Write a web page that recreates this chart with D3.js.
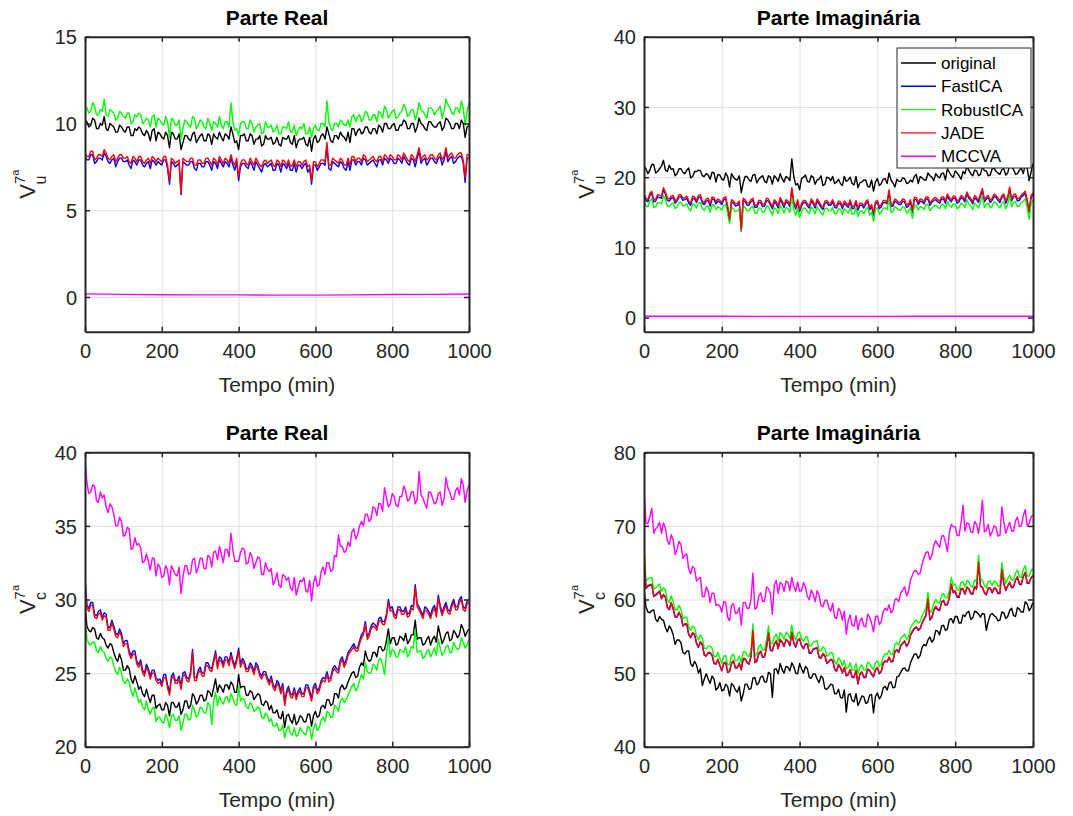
<!DOCTYPE html>
<html>
<head>
<meta charset="utf-8">
<script src="https://cdn.jsdelivr.net/npm/d3@7"></script>
<style>
  body { margin: 0; background: #fff; }
  svg { display: block; font-family: "Liberation Sans", Arial, sans-serif; }
</style>
</head>
<body>
<svg id="chart" width="1073" height="816"></svg>
<script>
// amostras: serie principal em t = 0,10,...,1000 min
// e amostras intermediarias ("_meio") em t = 5,15,...,995 min
const passo = 5;
const passoMccvaU = 100;

// ---------- V_u, parte real ----------
const reU_original = [10.2,9.8,10.3,9.7,10.0,10.4,9.6,9.9,9.5,9.9,
  9.6,9.8,9.3,9.7,9.8,9.4,9.6,9.0,9.7,9.5,
  9.2,9.5,8.6,9.4,9.1,8.5,9.3,9.1,9.4,8.9,
  9.3,9.0,9.4,8.8,9.2,9.5,9.0,9.3,9.8,8.9,
  8.5,9.3,9.0,9.4,8.8,9.1,8.7,9.3,9.1,8.8,
  9.2,8.7,9.1,9.3,8.8,8.6,9.1,9.2,8.7,8.4,
  9.3,9.0,9.4,9.8,9.0,9.3,9.1,9.3,9.0,8.9,
  9.7,9.6,9.4,9.8,9.5,9.7,9.4,9.8,10.0,9.7,
  9.9,9.6,9.9,10.2,9.7,10.0,9.5,10.3,9.9,9.6,
  10.1,9.8,10.0,9.6,10.3,10.0,9.7,10.0,10.2,9.2,9.9];
const reU_original_meio = [10.1,9.9,10.2,9.7,9.9,9.7,10.0,9.8,9.5,9.8,
  9.5,9.8,9.3,9.6,9.7,9.3,9.4,9.6,9.0,9.4,
  9.1,9.3,9.5,9.1,9.4,8.9,9.3,9.0,9.5,9.1,
  9.4,9.0,9.3,9.4,9.1,9.2,9.4,9.1,9.4,9.0,
  9.3,9.4,9.0,9.3,9.1,9.3,8.8,9.1,9.2,8.9,
  8.8,9.2,9.1,8.9,9.3,9.0,9.1,8.8,9.2,9.1,
  8.9,9.3,9.1,9.4,8.9,9.3,9.5,9.2,9.5,9.7,
  9.3,9.7,9.5,9.8,9.4,9.7,9.9,9.5,10.0,9.7,
  10.0,9.6,9.9,10.1,9.7,10.0,9.8,10.0,9.7,10.1,
  9.9,9.8,10.1,9.8,10.2,9.7,10.0,9.7,10.0,9.8];
const reU_fastica = [8.1,7.9,8.2,7.8,8.0,8.3,7.8,7.9,7.5,8.0,
  7.8,7.9,7.4,7.8,7.9,7.6,7.7,7.4,7.8,7.8,
  7.6,7.9,6.5,7.7,7.6,5.9,7.7,7.6,7.8,7.3,
  7.7,7.5,7.8,7.3,7.7,7.9,7.5,7.7,8.0,7.3,
  6.7,7.7,7.5,7.8,7.3,7.6,7.2,7.7,7.6,7.3,
  7.7,7.2,7.6,7.7,7.3,7.2,7.6,7.6,7.2,6.5,
  7.6,7.5,7.7,8.7,7.3,7.7,7.5,7.7,7.3,7.3,
  7.9,7.8,7.6,7.9,7.7,7.9,7.5,7.9,8.0,7.7,
  7.9,7.7,7.9,8.1,7.7,8.0,7.5,8.4,7.9,7.6,
  8.0,7.8,8.0,7.6,8.4,8.0,7.7,8.0,8.1,6.6,8.0];
const reU_fastica_meio = [7.9,8.2,7.7,8.0,7.9,8.1,7.7,8.0,7.8,8.0,
  7.8,7.6,7.9,7.6,7.9,7.5,7.8,7.9,7.6,7.7,
  7.9,7.4,7.8,7.5,7.7,7.8,7.6,7.8,7.4,7.7,
  7.5,7.8,7.6,7.8,7.4,7.7,7.8,7.5,7.6,7.8,
  7.5,7.7,7.4,7.6,7.8,7.4,7.6,7.5,7.7,7.3,
  7.6,7.7,7.4,7.3,7.7,7.6,7.4,7.7,7.4,7.6,
  7.3,7.7,7.6,7.4,7.8,7.6,7.8,7.4,7.8,7.9,
  7.6,7.8,8.0,7.6,7.8,7.7,7.9,7.6,7.9,8.0,
  7.7,8.0,7.7,7.9,7.6,7.9,8.0,7.7,8.0,7.8,
  8.0,7.7,8.1,7.9,7.8,8.1,7.8,8.1,7.7,8.0];
const reU_robustica = [11.0,10.6,11.2,10.5,10.8,11.4,10.4,10.7,10.2,10.7,
  10.4,10.6,10.0,10.5,10.6,10.0,10.3,9.8,10.5,10.3,
  10.0,10.4,9.2,10.2,9.9,9.1,10.2,9.9,10.4,9.7,
  10.2,9.8,10.3,9.6,10.0,10.4,9.7,10.1,11.2,9.6,
  9.3,10.1,9.7,10.2,9.5,9.9,9.4,10.1,9.8,9.5,
  9.9,9.4,9.8,10.1,9.5,9.3,9.8,10.0,9.4,9.2,
  9.9,9.6,10.0,11.3,9.7,10.0,9.8,10.1,9.9,9.8,
  10.5,10.4,10.1,10.7,10.2,10.5,10.1,10.6,11.0,10.3,
  10.7,10.3,10.6,11.1,10.4,10.8,10.2,11.2,10.7,10.3,
  10.9,10.5,10.8,10.3,11.4,10.9,10.5,10.9,11.3,9.9,11.2];
const reU_robustica_meio = [10.9,10.7,11.0,10.5,10.7,10.5,10.8,10.6,10.3,10.6,
  10.3,10.6,10.1,10.4,10.5,10.1,10.2,10.4,9.8,10.2,
  9.9,10.1,10.3,9.9,10.2,9.7,10.1,9.8,10.3,9.9,
  10.1,9.7,10.0,10.1,9.8,9.9,10.1,9.8,10.1,9.7,
  10.0,10.1,9.7,10.0,9.8,10.0,9.5,9.8,9.9,9.6,
  9.4,9.8,9.7,9.5,9.9,9.6,9.7,9.4,9.8,9.7,
  9.6,10.0,9.8,10.1,9.6,10.0,10.2,9.9,10.2,10.4,
  10.1,10.5,10.3,10.6,10.2,10.5,10.7,10.3,10.8,10.5,
  10.8,10.4,10.7,10.9,10.5,10.8,10.6,10.8,10.5,10.9,
  10.8,10.7,11.0,10.7,11.1,10.6,10.9,10.6,10.9,10.7];
const reU_jade = [8.3,8.1,8.4,8.0,8.2,8.5,8.0,8.1,7.8,8.2,
  8.0,8.1,7.7,8.0,8.1,7.8,7.9,7.7,8.0,8.0,
  7.8,8.1,6.7,7.9,7.8,6.0,7.9,7.8,8.0,7.6,
  7.9,7.7,8.0,7.6,7.9,8.1,7.7,7.9,8.2,7.6,
  6.9,7.9,7.7,8.0,7.6,7.8,7.5,7.9,7.8,7.6,
  7.9,7.5,7.8,7.9,7.6,7.5,7.8,7.8,7.5,6.7,
  7.8,7.7,7.9,8.9,7.6,7.9,7.7,7.9,7.6,7.6,
  8.1,8.0,7.8,8.1,7.9,8.1,7.8,8.1,8.2,7.9,
  8.1,7.9,8.1,8.3,7.9,8.2,7.8,8.6,8.1,7.9,
  8.2,8.0,8.2,7.9,8.6,8.2,8.0,8.2,8.3,6.9,8.2];
const reU_jade_meio = [8.1,8.4,7.9,8.2,8.1,8.3,7.9,8.2,8.0,8.2,
  8.0,7.8,8.1,7.8,8.1,7.7,8.0,8.1,7.8,7.9,
  8.1,7.6,8.0,7.7,7.9,8.0,7.8,8.0,7.6,7.9,
  7.7,8.0,7.8,8.0,7.6,7.9,8.0,7.7,7.8,8.0,
  7.7,7.9,7.6,7.8,8.0,7.6,7.8,7.7,7.9,7.5,
  7.8,7.9,7.6,7.5,7.9,7.8,7.6,7.9,7.6,7.8,
  7.5,7.9,7.8,7.6,8.0,7.8,8.0,7.6,8.0,8.1,
  7.8,8.0,8.2,7.8,8.0,7.9,8.1,7.8,8.1,8.2,
  7.9,8.2,7.9,8.1,7.8,8.1,8.2,7.9,8.2,8.0,
  8.2,7.9,8.3,8.1,8.0,8.3,8.0,8.3,7.9,8.2];
const reU_mccva = [0.18,0.15,0.13,0.12,0.12,0.11,0.11,0.12,0.14,0.15,0.17];

// ---------- V_u, parte imaginaria ----------
const imU_original = [21.6,20.5,21.8,20.6,21.2,22.4,20.8,21.1,20.2,21.2,
  20.7,21.0,19.9,20.8,21.0,20.2,20.5,19.7,20.6,20.4,
  19.7,20.6,18.6,20.0,19.6,17.8,20.1,19.6,20.3,19.2,
  20.0,19.4,20.2,19.0,19.9,20.5,19.3,19.9,22.6,18.9,
  18.2,20.0,19.4,20.2,19.0,19.7,18.8,20.0,19.5,19.1,
  19.7,18.8,19.4,20.0,18.9,18.5,19.3,19.6,18.6,18.0,
  19.8,19.1,19.8,20.6,19.2,19.7,19.4,19.8,19.2,19.3,
  20.4,20.1,19.6,20.6,20.0,20.5,19.9,20.6,21.2,20.2,
  20.9,20.2,20.8,21.5,20.5,21.0,20.2,21.6,20.9,20.3,
  21.3,20.6,21.1,20.3,21.8,21.1,20.5,21.3,21.8,19.5,22.0];
const imU_original_meio = [21.2,21.0,21.8,20.8,21.6,21.0,21.7,21.2,20.5,21.2,
  20.5,21.3,20.1,20.8,20.9,20.1,20.3,20.7,19.3,20.3,
  19.6,20.1,20.5,19.7,20.2,19.2,20.1,19.4,20.4,19.7,
  20.2,19.2,20.0,20.2,19.4,19.8,20.1,19.5,20.1,19.1,
  19.8,20.3,19.3,20.0,19.6,20.2,19.0,19.9,20.1,19.3,
  19.1,20.1,19.6,19.1,20.1,19.2,19.6,18.7,19.6,19.3,
  18.8,19.7,19.1,19.6,18.6,19.4,19.9,19.1,19.6,20.1,
  19.1,19.9,19.6,20.2,19.5,20.1,20.5,19.6,20.7,20.0,
  20.6,19.7,20.5,21.0,20.2,20.9,20.4,20.9,20.2,21.2,
  20.8,20.4,21.2,20.6,21.4,20.4,21.0,20.5,21.3,20.7];
const imU_fastica = [17.4,16.5,17.7,16.6,17.1,18.2,16.7,17.0,16.3,17.2,
  16.7,17.0,16.0,16.9,17.1,16.3,16.6,15.9,16.8,16.6,
  16.1,16.9,13.7,16.3,16.0,12.3,16.5,16.0,16.7,15.7,
  16.4,15.9,16.6,15.5,16.2,16.8,15.7,16.3,18.2,15.5,
  15.1,16.4,15.9,16.6,15.6,16.2,15.4,16.4,16.0,15.7,
  16.3,15.5,16.0,16.5,15.6,15.3,16.0,16.2,15.4,14.6,
  16.4,15.8,16.4,17.9,15.9,16.4,16.1,16.5,15.9,15.0,
  16.8,16.6,16.2,16.9,16.4,16.8,16.3,16.9,17.3,16.5,
  17.0,16.5,16.9,17.6,16.7,17.1,16.4,18.1,16.9,16.4,
  17.3,16.7,17.1,16.3,18.3,17.2,16.6,17.2,17.7,14.9,17.5];
const imU_fastica_meio = [16.7,17.4,16.5,17.2,17.0,17.6,16.6,17.1,16.6,17.2,
  16.8,16.3,17.0,16.4,17.2,16.1,16.7,16.9,16.2,16.4,
  16.8,15.6,16.5,15.9,16.3,16.7,16.0,16.5,15.7,16.4,
  15.8,16.7,16.0,16.5,15.6,16.3,16.5,15.8,16.2,16.5,
  15.9,16.4,15.6,16.2,16.6,15.7,16.3,16.0,16.5,15.6,
  16.2,16.3,15.7,15.5,16.4,16.0,15.6,16.5,15.8,16.2,
  15.5,16.4,16.2,15.8,16.6,16.1,16.6,15.7,16.5,16.8,
  16.1,16.5,16.9,16.0,16.7,16.5,16.9,16.3,16.8,17.0,
  16.3,17.1,16.5,17.0,16.2,16.8,17.3,16.5,17.1,16.7,
  17.1,16.4,17.3,16.9,16.6,17.3,16.7,17.4,16.5,17.1];
const imU_robustica = [16.6,15.8,16.9,15.8,16.3,17.4,15.9,16.2,15.5,16.4,
  15.9,16.2,15.2,16.1,16.3,15.5,15.8,15.0,16.0,15.8,
  15.3,16.1,13.4,15.5,15.2,12.4,15.7,15.2,15.9,14.9,
  15.6,15.1,15.8,14.6,15.4,16.0,14.9,15.5,17.3,14.6,
  14.3,15.6,15.1,15.8,14.8,15.4,14.6,15.6,15.2,14.8,
  15.5,14.7,15.2,15.7,14.8,14.4,15.2,15.4,14.6,13.7,
  15.6,15.0,15.6,17.0,15.1,15.6,15.3,15.7,15.1,14.1,
  16.0,15.8,15.4,16.1,15.6,16.0,15.5,16.1,16.5,15.7,
  16.2,15.7,16.1,16.8,15.9,16.3,15.6,17.3,16.1,15.6,
  16.5,15.9,16.3,15.5,17.5,16.4,15.8,16.4,16.9,14.0,16.7];
const imU_robustica_meio = [15.9,16.6,15.7,16.4,16.2,16.8,15.8,16.3,15.8,16.4,
  16.0,15.5,16.2,15.6,16.4,15.3,15.9,16.1,15.4,15.6,
  16.0,14.8,15.7,15.1,15.5,15.9,15.2,15.7,14.9,15.6,
  15.0,15.9,15.2,15.7,14.8,15.5,15.7,15.0,15.4,15.7,
  15.1,15.6,14.8,15.4,15.8,14.9,15.5,15.2,15.7,14.8,
  15.4,15.5,14.9,14.7,15.6,15.2,14.8,15.7,15.0,15.4,
  14.7,15.6,15.4,15.0,15.8,15.3,15.8,14.9,15.7,16.0,
  15.3,15.7,16.1,15.2,15.9,15.7,16.1,15.5,16.0,16.2,
  15.5,16.3,15.7,16.2,15.4,16.0,16.5,15.7,16.3,15.9,
  16.3,15.6,16.5,16.1,15.8,16.5,15.9,16.6,15.7,16.3];
const imU_jade = [17.7,16.8,18.0,16.9,17.4,18.5,17.0,17.3,16.6,17.5,
  17.0,17.3,16.3,17.2,17.4,16.6,16.9,16.2,17.1,16.9,
  16.4,17.2,14.0,16.6,16.3,12.6,16.8,16.3,17.0,16.0,
  16.7,16.2,16.9,15.8,16.5,17.1,16.0,16.6,18.5,15.8,
  15.4,16.7,16.2,16.9,15.9,16.5,15.7,16.7,16.3,16.0,
  16.6,15.8,16.3,16.8,15.9,15.6,16.3,16.5,15.7,14.9,
  16.7,16.1,16.7,18.2,16.2,16.7,16.4,16.8,16.2,15.3,
  17.1,16.9,16.5,17.2,16.7,17.1,16.6,17.2,17.6,16.8,
  17.3,16.8,17.2,17.9,17.0,17.4,16.7,18.4,17.2,16.7,
  17.6,17.0,17.4,16.6,18.6,17.5,16.9,17.5,18.0,15.2,17.8];
const imU_jade_meio = [17.0,17.7,16.8,17.5,17.3,17.9,16.9,17.4,16.9,17.5,
  17.1,16.6,17.3,16.7,17.5,16.4,17.0,17.2,16.5,16.7,
  17.1,15.9,16.8,16.2,16.6,17.0,16.3,16.8,16.0,16.7,
  16.1,17.0,16.3,16.8,15.9,16.6,16.8,16.1,16.5,16.8,
  16.2,16.7,15.9,16.5,16.9,16.0,16.6,16.3,16.8,15.9,
  16.5,16.6,16.0,15.8,16.7,16.3,15.9,16.8,16.1,16.5,
  15.8,16.7,16.5,16.1,16.9,16.4,16.9,16.0,16.8,17.1,
  16.4,16.8,17.2,16.3,17.0,16.8,17.2,16.6,17.1,17.3,
  16.6,17.4,16.8,17.3,16.5,17.1,17.6,16.8,17.4,17.0,
  17.4,16.7,17.6,17.2,16.9,17.6,17.0,17.7,16.8,17.4];
const imU_mccva = [0.2,0.2,0.19,0.18,0.18,0.18,0.18,0.19,0.2,0.2,0.21];

// ---------- V_c, parte real ----------
const reC_original = [29.7,27.9,28.1,27.4,27.7,27.3,26.7,26.9,26.0,26.3,
  25.2,25.5,24.6,24.8,23.9,23.6,23.9,23.0,23.5,22.8,
  22.5,23.0,22.1,23.0,22.7,22.2,23.1,22.6,23.6,22.9,
  23.5,23.1,23.8,23.4,24.6,24.2,23.7,24.2,24.4,23.7,
  24.9,24.1,23.5,23.8,23.2,23.6,22.9,23.1,22.5,22.3,
  22.5,21.9,21.3,22.2,21.6,21.5,22.1,21.7,22.2,21.4,
  22.4,22.1,22.8,23.2,22.8,23.6,23.3,24.2,24.0,24.7,
  25.1,24.8,25.7,26.5,25.8,26.4,26.1,26.8,26.6,28.0,
  27.4,26.9,27.5,27.2,27.0,27.6,28.6,27.4,26.9,27.3,
  26.9,27.5,28.2,27.0,27.7,27.2,27.9,27.4,28.3,27.5,28.0];
const reC_original_meio = [28.2,27.8,28.0,27.3,27.4,26.9,27.0,26.4,25.8,25.9,
  25.2,25.3,24.3,24.4,24.1,23.4,23.4,23.5,22.6,22.9,
  22.5,22.8,23.0,22.7,23.0,22.5,23.1,22.8,23.4,23.1,
  23.5,23.2,23.7,24.0,23.7,24.0,24.2,23.9,24.2,23.7,
  24.0,24.1,23.5,23.7,23.4,23.5,22.8,23.0,22.8,22.3,
  22.0,22.4,22.1,21.8,22.2,21.7,22.0,21.7,22.2,22.1,
  22.0,22.7,22.6,23.2,22.9,23.6,24.0,23.9,24.4,25.0,
  24.7,25.4,25.5,26.0,25.9,26.4,26.8,26.5,27.2,27.0,
  27.4,27.0,27.4,27.7,27.2,27.6,27.3,27.4,27.0,27.5,
  27.3,27.1,27.6,27.3,27.8,27.3,27.7,27.6,28.0,27.8];
const reC_fastica = [31.6,29.4,29.8,28.9,29.3,29.1,28.1,28.6,27.7,28.0,
  27.0,27.2,26.2,26.5,25.6,25.2,25.6,24.8,25.2,24.5,
  24.3,24.9,23.7,25.0,24.5,24.1,25.1,24.6,26.6,24.7,
  25.4,25.0,25.7,25.3,26.5,26.1,25.6,26.1,26.4,25.5,
  26.7,26.0,25.3,25.7,25.1,25.5,24.8,25.1,24.4,24.2,
  24.5,23.8,23.0,24.1,23.5,23.4,24.0,23.6,24.2,23.3,
  24.3,24.0,24.7,25.1,24.7,25.5,25.2,26.1,25.9,26.6,
  27.0,26.7,27.6,28.5,27.7,28.4,28.1,28.8,28.5,30.0,
  29.5,28.9,29.5,29.2,29.0,29.6,31.0,29.5,28.9,29.4,
  28.9,29.6,30.3,29.1,29.8,29.2,30.0,29.5,30.2,29.4,30.0];
const reC_fastica_meio = [29.6,29.8,29.0,29.2,28.8,29.0,28.1,28.2,27.6,27.7,
  27.2,26.5,26.5,25.8,25.9,25.0,25.3,25.2,24.7,24.6,
  24.9,24.2,24.8,24.5,24.8,25.0,24.7,25.1,24.7,25.2,
  25.0,25.7,25.4,25.9,25.5,26.0,26.1,25.7,25.9,26.0,
  25.6,25.8,25.3,25.5,25.7,25.0,25.1,24.7,24.8,24.0,
  24.3,24.3,23.8,23.6,24.0,23.8,23.6,24.2,23.8,24.1,
  23.8,24.5,24.6,24.6,25.3,25.3,25.9,25.6,26.4,26.8,
  26.7,27.2,27.8,27.5,28.2,28.3,28.7,28.5,29.0,29.4,
  29.0,29.5,29.2,29.5,29.1,29.5,29.7,29.2,29.5,29.2,
  29.4,29.0,29.6,29.5,29.3,29.7,29.5,30.0,29.5,29.9];
const reC_robustica = [28.8,27.0,27.1,26.5,26.8,26.4,25.8,26.0,25.1,25.4,
  24.4,24.6,23.8,24.0,23.0,22.7,23.1,22.2,22.7,22.0,
  21.7,22.2,21.3,22.2,21.8,21.1,22.2,21.8,22.8,22.0,
  22.7,22.3,23.0,21.5,23.7,23.4,22.9,23.4,23.6,22.9,
  24.1,23.3,22.7,23.0,22.4,22.7,22.0,22.3,21.7,21.4,
  21.6,21.1,20.6,21.4,20.8,20.7,21.3,20.9,21.4,20.5,
  21.6,21.3,22.0,22.4,22.0,22.8,22.4,23.3,23.2,23.8,
  24.3,24.0,24.9,25.7,25.0,25.6,25.2,26.0,24.9,27.4,
  26.6,26.1,26.6,26.4,26.1,26.8,27.9,26.5,26.0,26.5,
  26.1,26.7,27.3,26.2,26.8,26.4,27.1,26.6,27.4,26.7,27.3];
const reC_robustica_meio = [27.3,26.9,27.1,26.4,26.5,26.0,26.1,25.5,24.9,25.0,
  24.3,24.4,23.4,23.5,23.2,22.5,22.5,22.6,21.7,22.0,
  21.6,21.9,22.1,21.8,22.1,21.6,22.2,21.9,22.5,22.2,
  22.6,22.3,22.8,23.1,22.8,23.1,23.3,23.0,23.3,22.8,
  23.1,23.2,22.6,22.8,22.5,22.6,21.9,22.1,21.9,21.4,
  21.1,21.5,21.2,20.9,21.3,20.8,21.1,20.8,21.3,21.2,
  21.1,21.8,21.7,22.3,22.0,22.7,23.1,23.0,23.5,24.1,
  23.8,24.5,24.6,25.1,25.0,25.5,25.9,25.6,26.3,26.1,
  26.5,26.1,26.5,26.8,26.3,26.7,26.4,26.5,26.1,26.6,
  26.4,26.2,26.7,26.4,26.9,26.4,26.8,26.7,27.1,26.9];
const reC_jade = [31.4,29.2,29.6,28.7,29.1,28.9,27.9,28.4,27.5,27.8,
  26.8,27.0,26.0,26.3,25.4,25.0,25.4,24.6,25.0,24.3,
  24.1,24.7,23.5,24.8,24.3,23.9,24.9,24.4,26.4,24.5,
  25.2,24.8,25.5,25.1,26.3,25.9,25.4,25.9,26.2,25.3,
  26.5,25.8,25.1,25.5,24.9,25.3,24.6,24.9,24.2,24.0,
  24.3,23.6,22.8,23.9,23.3,23.2,23.8,23.4,24.0,23.1,
  24.1,23.8,24.5,24.9,24.5,25.3,25.0,25.9,25.7,26.4,
  26.8,26.5,27.4,28.3,27.5,28.2,27.9,28.6,28.3,29.8,
  29.3,28.7,29.3,29.0,28.8,29.4,30.8,29.3,28.7,29.2,
  28.7,29.4,30.1,28.9,29.6,29.0,29.8,29.3,30.0,29.2,29.8];
const reC_jade_meio = [29.4,29.6,28.8,29.0,28.6,28.8,27.9,28.0,27.4,27.5,
  27.0,26.3,26.3,25.6,25.7,24.8,25.1,25.0,24.5,24.4,
  24.7,24.0,24.6,24.3,24.6,24.8,24.5,24.9,24.5,25.0,
  24.8,25.5,25.2,25.7,25.3,25.8,25.9,25.5,25.7,25.8,
  25.4,25.6,25.1,25.3,25.5,24.8,24.9,24.5,24.6,23.8,
  24.1,24.1,23.6,23.4,23.8,23.6,23.4,24.0,23.6,23.9,
  23.6,24.3,24.4,24.4,25.1,25.1,25.7,25.4,26.2,26.6,
  26.5,27.0,27.6,27.3,28.0,28.1,28.5,28.3,28.8,29.2,
  28.8,29.3,29.0,29.3,28.9,29.3,29.5,29.0,29.3,29.0,
  29.2,28.8,29.4,29.3,29.1,29.5,29.3,29.8,29.3,29.7];
const reC_mccva = [39.6,37.2,37.8,36.7,37.3,37.1,35.9,36.3,35.0,35.6,
  34.3,34.9,33.4,34.2,33.8,32.5,33.1,32.0,32.8,32.4,
  31.5,32.3,31.0,32.0,31.6,30.4,32.3,31.7,32.7,31.8,
  32.8,32.1,33.0,32.2,33.3,33.6,32.5,33.4,34.5,32.6,
  32.6,33.5,32.4,33.2,32.1,32.9,31.7,32.5,31.9,31.0,
  31.8,30.8,31.6,31.5,30.6,30.3,31.3,31.5,30.5,29.9,
  31.6,31.0,32.2,32.5,31.9,33.0,34.4,33.6,33.3,33.6,
  34.8,34.4,35.3,35.8,35.3,36.3,35.7,36.5,37.6,36.3,
  37.2,36.4,37.0,37.7,36.7,37.3,36.5,38.7,36.9,36.2,
  37.3,36.5,37.2,36.4,38.3,37.3,36.8,37.6,38.2,36.6,37.8];
const reC_mccva_meio = [37.9,37.3,37.7,36.6,36.9,36.3,36.5,35.8,35.0,35.3,
  34.4,34.8,33.5,33.7,33.5,32.6,32.6,32.8,31.6,32.2,
  31.6,32.0,32.3,31.7,32.2,31.5,32.3,31.8,32.8,32.2,
  32.8,32.1,32.9,33.2,32.7,33.1,33.4,32.9,33.4,32.6,
  33.2,33.4,32.5,32.9,32.5,32.8,31.7,32.1,32.1,31.3,
  31.0,31.7,31.3,30.8,31.5,30.8,31.2,30.6,31.3,31.1,
  30.9,31.9,31.7,32.5,32.0,32.9,33.6,33.2,33.9,34.6,
  34.1,35.0,35.0,35.8,35.5,36.2,36.5,36.0,36.9,36.5,
  37.0,36.3,37.0,37.4,36.8,37.3,36.8,37.1,36.5,37.3,
  36.9,36.6,37.3,36.8,37.6,36.8,37.4,37.1,37.8,37.4];

// ---------- V_c, parte imaginaria ----------
const imC_original = [61.5,58.3,58.5,57.3,57.7,57.2,55.6,56.0,53.9,54.5,
  52.8,53.0,51.3,51.6,50.0,48.3,49.9,48.6,49.2,48.0,
  47.6,48.5,46.9,48.3,47.4,46.2,48.5,47.8,49.3,48.4,
  49.5,48.8,50.1,46.7,50.6,51.3,50.0,50.8,51.4,50.0,
  51.3,50.0,50.6,49.3,49.9,48.7,49.3,47.8,48.5,47.2,
  47.8,46.6,44.7,47.2,46.1,45.6,46.9,45.9,47.0,44.6,
  47.3,46.9,48.2,48.6,48.0,49.5,50.1,50.7,50.3,52.0,
  52.6,52.4,53.9,54.5,54.2,55.8,55.2,56.5,56.0,57.4,
  57.7,56.8,57.9,58.2,57.3,58.4,58.0,58.1,55.8,57.9,
  57.8,57.1,58.3,57.4,58.5,57.8,58.9,58.3,59.7,58.5,59.6];
const imC_original_meio = [59.0,58.2,58.6,57.0,57.3,56.2,56.4,55.2,54.5,54.1,
  52.6,53.0,50.9,51.1,50.6,49.2,49.2,49.6,47.7,48.7,
  47.7,48.2,48.6,47.7,48.2,47.2,48.5,47.9,49.4,48.7,
  49.6,48.8,49.9,50.5,49.9,50.5,50.9,50.3,50.9,49.9,
  50.6,50.9,49.4,49.9,49.2,49.6,47.9,48.1,48.4,47.2,
  46.7,47.7,47.0,46.3,47.2,46.2,46.8,46.0,47.1,46.8,
  46.5,48.0,47.7,48.8,48.1,49.6,50.6,50.3,51.4,52.6,
  52.0,53.5,53.7,54.9,54.6,55.7,56.4,55.8,57.3,56.8,
  57.7,56.8,57.7,58.4,57.5,58.3,57.6,58.0,57.0,58.1,
  57.6,57.2,58.2,57.7,58.8,57.7,58.7,58.3,59.4,58.9];
const imC_fastica = [66.5,61.8,62.0,60.6,61.1,60.6,58.9,59.5,57.6,58.2,
  56.4,56.6,54.8,55.2,53.5,53.8,52.3,52.7,51.3,51.8,
  50.3,51.4,50.2,51.6,50.7,50.4,51.9,51.2,55.7,51.6,
  52.9,52.2,55.4,53.0,54.3,54.5,53.6,54.3,55.5,53.5,
  54.6,53.3,53.9,52.7,53.3,52.1,52.6,51.3,51.8,50.5,
  51.1,50.0,49.6,50.4,49.4,48.5,50.1,49.4,50.3,49.5,
  50.7,50.2,51.6,52.1,51.6,53.1,53.7,54.3,54.0,55.6,
  56.2,56.0,57.3,60.0,57.5,59.0,58.5,59.8,59.3,62.0,
  61.1,60.3,61.4,61.6,60.8,61.7,65.0,61.6,60.6,61.5,
  61.5,60.8,64.0,61.2,62.3,61.7,63.0,62.0,63.6,62.2,63.2];
const imC_fastica_meio = [61.5,61.9,60.4,60.8,60.1,60.3,58.6,58.7,57.6,57.7,
  56.6,55.2,55.4,54.0,54.2,52.4,52.7,52.4,51.2,51.0,
  51.3,50.1,51.3,50.7,51.3,51.9,51.4,52.2,51.4,52.6,
  52.1,53.5,53.1,53.9,53.3,54.2,54.5,53.7,54.1,54.4,
  53.7,53.9,52.7,53.2,53.4,52.0,52.3,51.5,51.7,50.2,
  50.7,50.7,49.8,49.4,50.3,49.8,49.4,50.5,49.8,50.4,
  49.9,51.3,51.5,51.5,52.9,52.8,54.0,53.6,55.1,56.0,
  55.8,56.8,57.8,57.2,58.5,58.6,59.6,59.2,60.2,60.9,
  60.3,61.4,60.7,61.4,60.7,61.4,61.8,60.9,61.5,60.9,
  61.4,60.8,62.1,61.8,61.6,62.6,62.1,63.1,62.2,62.9];
const imC_robustica = [67.5,62.8,63.0,61.6,62.1,61.6,59.9,60.5,58.6,59.2,
  57.4,57.6,55.8,56.2,54.5,54.8,53.3,53.7,52.3,52.8,
  51.3,52.4,51.2,52.6,51.7,51.4,52.9,52.2,56.7,52.6,
  53.9,53.2,56.4,54.0,55.3,55.5,54.6,55.3,56.5,54.5,
  55.6,54.3,54.9,53.7,54.3,53.1,53.6,52.3,52.8,51.5,
  52.1,51.0,50.6,51.4,50.4,49.9,51.1,50.4,51.3,50.5,
  51.7,51.2,52.6,53.1,52.6,54.1,54.7,55.3,55.0,56.6,
  57.2,57.0,58.3,61.0,58.5,60.0,59.5,60.8,60.3,63.0,
  62.1,61.3,62.4,62.6,61.8,62.7,66.0,62.6,61.6,62.5,
  62.5,61.8,65.0,62.2,63.3,62.7,64.0,63.0,64.6,63.2,64.2];
const imC_robustica_meio = [62.5,62.9,61.4,61.8,61.1,61.3,59.6,59.7,58.6,58.7,
  57.6,56.2,56.4,55.0,55.2,53.4,53.7,53.4,52.2,52.0,
  52.3,51.1,52.3,51.7,52.3,52.9,52.4,53.2,52.4,53.6,
  53.1,54.5,54.1,54.9,54.3,55.2,55.5,54.7,55.1,55.4,
  54.7,54.9,53.7,54.2,54.4,53.0,53.3,52.5,52.7,51.2,
  51.7,51.7,50.8,50.4,51.3,50.8,50.4,51.5,50.8,51.4,
  50.9,52.3,52.5,52.5,53.9,53.8,55.0,54.6,56.1,57.0,
  56.8,57.8,58.8,58.2,59.5,59.6,60.6,60.2,61.2,61.9,
  61.3,62.4,61.7,62.4,61.7,62.4,62.8,61.9,62.5,61.9,
  62.4,61.8,63.1,62.8,62.6,63.6,63.1,64.1,63.2,63.9];
const imC_jade = [66.6,61.9,62.1,60.7,61.2,60.7,59.0,59.6,57.7,58.3,
  56.5,56.7,54.9,55.3,53.6,53.9,52.4,52.8,51.4,51.9,
  50.4,51.5,50.3,51.7,50.8,50.5,52.0,51.3,55.8,51.7,
  53.0,52.3,55.5,53.1,54.4,54.6,53.7,54.4,55.6,53.6,
  54.7,53.4,54.0,52.8,53.4,52.2,52.7,51.4,51.9,50.6,
  51.2,50.1,49.7,50.5,49.5,48.6,50.2,49.5,50.4,49.6,
  50.8,50.3,51.7,52.2,51.7,53.2,53.8,54.4,54.1,55.7,
  56.3,56.1,57.4,60.1,57.6,59.1,58.6,59.9,59.4,62.1,
  61.2,60.4,61.5,61.7,60.9,61.8,65.1,61.7,60.7,61.6,
  61.6,60.9,64.1,61.3,62.4,61.8,63.1,62.1,63.7,62.3,63.3];
const imC_jade_meio = [61.6,62.0,60.5,60.9,60.2,60.4,58.7,58.8,57.7,57.8,
  56.7,55.3,55.5,54.1,54.3,52.5,52.8,52.5,51.3,51.1,
  51.4,50.2,51.4,50.8,51.4,52.0,51.5,52.3,51.5,52.7,
  52.2,53.6,53.2,54.0,53.4,54.3,54.6,53.8,54.2,54.5,
  53.8,54.0,52.8,53.3,53.5,52.1,52.4,51.6,51.8,50.3,
  50.8,50.8,49.9,49.5,50.4,49.9,49.5,50.6,49.9,50.5,
  50.0,51.4,51.6,51.6,53.0,52.9,54.1,53.7,55.2,56.1,
  55.9,56.9,57.9,57.3,58.6,58.7,59.7,59.3,60.3,61.0,
  60.4,61.5,60.8,61.5,60.8,61.5,61.9,61.0,61.6,61.0,
  61.5,60.9,62.2,61.9,61.7,62.7,62.2,63.2,62.3,63.0];
const imC_mccva = [75.2,70.3,72.4,69.6,70.5,70.4,68.0,68.8,66.1,67.9,
  65.6,66.2,63.5,64.2,62.8,60.4,61.7,59.6,60.8,59.3,
  58.3,59.6,57.1,59.4,58.2,56.5,59.6,58.8,63.6,58.9,
  60.9,59.8,61.5,58.0,62.6,62.3,61.1,62.4,63.0,61.1,
  61.1,62.3,60.4,61.3,59.7,60.6,59.0,59.9,58.4,57.6,
  58.8,57.2,55.3,57.9,56.4,55.9,57.5,56.3,57.6,55.6,
  57.8,57.0,58.8,59.3,58.5,60.1,60.9,61.7,61.1,63.3,
  63.9,63.6,65.7,66.5,66.0,68.0,67.1,68.7,66.5,70.2,
  69.9,68.7,72.8,70.4,69.2,70.6,69.0,73.5,69.4,68.6,
  70.0,68.6,72.6,69.0,70.5,69.3,71.2,70.0,72.2,70.3,71.5];
const imC_mccva_meio = [70.4,71.2,69.0,69.9,69.0,69.7,67.5,68.1,66.8,67.5,
  66.0,64.1,64.5,62.5,63.0,60.4,61.1,60.9,59.2,59.1,
  59.7,57.6,59.2,58.1,58.9,59.6,58.8,60.0,58.7,60.5,
  59.7,61.7,60.8,62.0,60.8,62.1,62.5,61.2,61.8,62.4,
  61.2,61.7,60.0,60.7,61.2,59.2,59.9,58.9,59.5,57.4,
  58.4,58.4,57.1,56.5,57.8,57.1,56.4,58.0,56.8,57.6,
  56.6,58.4,58.5,58.2,60.0,59.7,61.3,60.5,62.6,63.9,
  63.4,64.8,66.4,65.4,67.4,67.5,68.6,67.8,69.1,69.9,
  68.7,70.4,69.3,70.3,69.1,70.2,70.8,69.2,70.2,69.2,
  69.8,68.7,70.5,69.8,69.3,70.7,69.9,71.4,70.0,71.2];

// rotulos e ticks
const metodos = ["original", "FastICA", "RobustICA", "JADE", "MCCVA"];
const cores = ["#000000", "#0000ff", "#00ff00", "#ff0000", "#ff00ff"];
const ticksX = [0, 200, 400, 600, 800, 1000];
const ticksReU = [0, 5, 10, 15];
const ticksImU = [0, 10, 20, 30, 40];
const ticksReC = [20, 25, 30, 35, 40];
const ticksImC = [40, 50, 60, 70, 80];

// junta amostras principais e intermediarias na ordem do tempo
const intercalar = (a, b) => d3.merge(a.map((v, i) => (i < b.length ? [v, b[i]] : [v])));

const svg = d3.select("#chart");
const corTexto = "#262626";
const fonte = "'Liberation Sans', Arial, sans-serif";

const paineis = [
  { left: 85, right: 469, top: 36.7, bottom: 331.7, dominio: [-2, 15], ticks: ticksReU,
    titulo: "Parte Real", sub: "u", legenda: false,
    series: [[intercalar(reU_original, reU_original_meio), passo],
             [intercalar(reU_fastica, reU_fastica_meio), passo],
             [intercalar(reU_robustica, reU_robustica_meio), passo],
             [intercalar(reU_jade, reU_jade_meio), passo],
             [reU_mccva, passoMccvaU]] },
  { left: 644, right: 1033, top: 36.7, bottom: 331.7, dominio: [-2, 40], ticks: ticksImU,
    titulo: "Parte Imaginária", sub: "u", legenda: true,
    series: [[intercalar(imU_original, imU_original_meio), passo],
             [intercalar(imU_fastica, imU_fastica_meio), passo],
             [intercalar(imU_robustica, imU_robustica_meio), passo],
             [intercalar(imU_jade, imU_jade_meio), passo],
             [imU_mccva, passoMccvaU]] },
  { left: 85, right: 469, top: 452.3, bottom: 746.7, dominio: [20, 40], ticks: ticksReC,
    titulo: "Parte Real", sub: "c", legenda: false,
    series: [[intercalar(reC_original, reC_original_meio), passo],
             [intercalar(reC_fastica, reC_fastica_meio), passo],
             [intercalar(reC_robustica, reC_robustica_meio), passo],
             [intercalar(reC_jade, reC_jade_meio), passo],
             [intercalar(reC_mccva, reC_mccva_meio), passo]] },
  { left: 644, right: 1033, top: 452.3, bottom: 746.7, dominio: [40, 80], ticks: ticksImC,
    titulo: "Parte Imaginária", sub: "c", legenda: false,
    series: [[intercalar(imC_original, imC_original_meio), passo],
             [intercalar(imC_fastica, imC_fastica_meio), passo],
             [intercalar(imC_robustica, imC_robustica_meio), passo],
             [intercalar(imC_jade, imC_jade_meio), passo],
             [intercalar(imC_mccva, imC_mccva_meio), passo]] }
];

paineis.forEach((p, k) => {
  const w = p.right - p.left;
  const h = p.bottom - p.top;
  const x = d3.scaleLinear().domain([0, 1000]).range([0, w]);
  const y = d3.scaleLinear().domain(p.dominio).range([h, 0]);

  const g = svg.append("g").attr("transform", `translate(${p.left},${p.top})`);

  svg.append("clipPath").attr("id", "clip" + k)
    .append("rect").attr("width", w).attr("height", h);

  // grade
  const gradeX = g.append("g").attr("transform", `translate(0,${h})`)
    .call(d3.axisBottom(x).tickValues(ticksX).tickSize(-h).tickFormat(""));
  const gradeY = g.append("g")
    .call(d3.axisLeft(y).tickValues(p.ticks).tickSize(-w).tickFormat(""));
  [gradeX, gradeY].forEach(a => {
    a.select(".domain").remove();
    a.selectAll("line").attr("stroke", "#e0e0e0").attr("stroke-width", 1);
  });

  // linhas
  const linhas = g.append("g").attr("clip-path", `url(#clip${k})`);
  p.series.forEach(([vals, dt], j) => {
    const line = d3.line().x((d, i) => x(i * dt)).y(d => y(d));
    linhas.append("path")
      .attr("d", line(vals))
      .attr("fill", "none")
      .attr("stroke", cores[j])
      .attr("stroke-width", 1.4)
      .attr("stroke-linejoin", "round");
  });

  // eixos com ticks para dentro
  const fmt = d3.format("d");
  const eixoB = g.append("g").attr("transform", `translate(0,${h})`)
    .call(d3.axisBottom(x).tickValues(ticksX).tickFormat(fmt).tickSizeInner(-5).tickSizeOuter(0).tickPadding(12));
  const eixoT = g.append("g")
    .call(d3.axisTop(x).tickValues(ticksX).tickSizeInner(-5).tickSizeOuter(0).tickFormat(""));
  const eixoL = g.append("g")
    .call(d3.axisLeft(y).tickValues(p.ticks).tickFormat(fmt).tickSizeInner(-5).tickSizeOuter(0).tickPadding(8));
  const eixoR = g.append("g").attr("transform", `translate(${w},0)`)
    .call(d3.axisRight(y).tickValues(p.ticks).tickSizeInner(-5).tickSizeOuter(0).tickFormat(""));
  [eixoB, eixoT, eixoL, eixoR].forEach(a => {
    a.select(".domain").attr("stroke", corTexto).attr("stroke-width", 2);
    a.selectAll(".tick line").attr("stroke", corTexto).attr("stroke-width", 1.5);
    a.selectAll("text").attr("fill", corTexto).attr("font-size", 20).attr("font-family", fonte);
  });
  eixoB.selectAll("text").attr("dy", "0.71em");
  eixoL.selectAll("text").attr("dy", "0.36em");

  // titulo
  svg.append("text")
    .attr("x", p.left + w / 2).attr("y", p.top - 12)
    .attr("text-anchor", "middle")
    .attr("font-size", 21).attr("font-weight", "bold").attr("fill", "#000")
    .text(p.titulo);

  // rotulo x
  svg.append("text")
    .attr("x", p.left + w / 2).attr("y", p.bottom + 60)
    .attr("text-anchor", "middle")
    .attr("font-size", 21).attr("fill", corTexto)
    .text("Tempo (min)");

  // rotulo y: V^{7^a}_u
  const ly = svg.append("text")
    .attr("transform", `translate(${p.left - 50},${p.top + h / 2}) rotate(-90)`)
    .attr("text-anchor", "middle").attr("fill", corTexto);
  ly.append("tspan").attr("font-size", 22).text("V");
  ly.append("tspan").attr("font-size", 15).attr("dy", -10).text("7");
  ly.append("tspan").attr("font-size", 11).attr("dy", -6).text("a");
  ly.append("tspan").attr("font-size", 16).attr("dx", -15).attr("dy", 27).text(p.sub);

  // legenda
  if (p.legenda) {
    const lg = svg.append("g").attr("transform", "translate(897,48)");
    lg.append("rect").attr("width", 134).attr("height", 120)
      .attr("fill", "#fff").attr("stroke", corTexto).attr("stroke-width", 1);
    metodos.forEach((m, j) => {
      const yy = 15 + j * 23.3;
      lg.append("line").attr("x1", 4).attr("x2", 39).attr("y1", yy).attr("y2", yy)
        .attr("stroke", cores[j]).attr("stroke-width", 1.4);
      lg.append("text").attr("x", 44).attr("y", yy).attr("dy", "0.35em")
        .attr("font-size", 17).attr("fill", "#000").text(m);
    });
  }
});
</script>
</body>
</html>
